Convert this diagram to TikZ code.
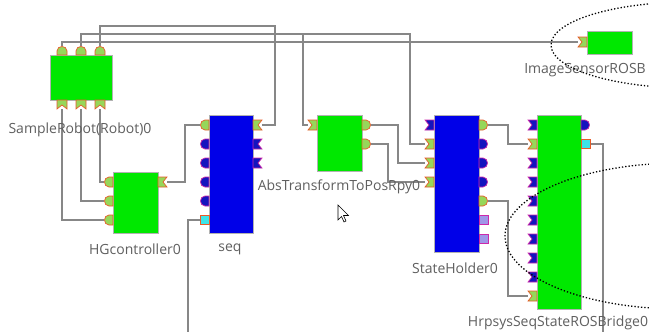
\documentclass[tikz,border=0pt]{standalone}
\usepackage{fontspec}
\setmainfont{Open Sans}
\usetikzlibrary{backgrounds}
\definecolor{blockgreen}{RGB}{0,232,0}
\definecolor{blockblue}{RGB}{0,0,232}
\definecolor{portgreen}{RGB}{150,215,90}
\definecolor{portblue}{RGB}{20,20,190}
\definecolor{portred}{RGB}{232,90,40}
\definecolor{portmag}{RGB}{205,40,170}
\definecolor{portcyan}{RGB}{60,228,232}
\definecolor{portlav}{RGB}{160,150,232}
\definecolor{wiregrey}{RGB}{135,135,135}
\definecolor{textgrey}{RGB}{95,95,95}
\tikzstyle{gblock}=[rectangle, draw=gray!60, fill=blockgreen, line width=0.6pt, inner sep=0pt]
\tikzstyle{bblock}=[rectangle, draw=gray!60, fill=blockblue, line width=0.6pt, inner sep=0pt]
\tikzstyle{lbl}=[font=\fontsize{14}{16}\selectfont, text=textgrey, inner sep=0pt]
\tikzstyle{wire}=[draw=wiregrey, line width=1.1pt]
\tikzstyle{gport}=[fill=portgreen, draw=portred, line width=0.7pt]
\tikzstyle{bport}=[fill=portblue, draw=portmag, line width=0.7pt]
\tikzstyle{cport}=[fill=portcyan, draw=portred, line width=0.7pt]
\tikzstyle{lport}=[fill=portlav, draw=portmag, line width=0.7pt]
\tikzstyle{halo}=[draw=black, dotted, line width=1.3pt]
\tikzset{
  notchport/.pic={\path[pic actions] (0,-5) -- (-9,-5) -- (-5,0) -- (-9,5) -- (0,5) -- cycle;
    \coordinate (-tip) at (-9,0);},
  domeport/.pic={\path[pic actions] (0,-5) -- (-4,-5) .. controls (-10,-5) and (-10,5) .. (-4,5) -- (0,5) -- cycle;
    \coordinate (-tip) at (-9,0);},
  sqport/.pic={\path[pic actions] (-9,-4.5) rectangle (0,4.5);
    \coordinate (-tip) at (-9,0);}
}

\begin{document}
\begin{tikzpicture}[x=1pt, y=-1pt]
  \useasboundingbox (0,0) rectangle (649,332);
  \clip (0,0) rectangle (649,332);

  % components
  \node[gblock, minimum width=62, minimum height=45] (sr) at (81,77.5) {};
  \node[gblock, minimum width=45, minimum height=61] (hg) at (135.5,202.5) {};
  \node[bblock, minimum width=44, minimum height=118] (seq) at (231,174) {};
  \node[gblock, minimum width=45, minimum height=56] (abs) at (339.5,143) {};
  \node[bblock, minimum width=45, minimum height=137] (sh) at (456.5,183.5) {};
  \node[gblock, minimum width=44, minimum height=194] (hr) at (559,212) {};
  \node[gblock, minimum width=45, minimum height=23] (is) at (609.5,42.5) {};

  % ports
  \pic[gport, rotate=-90] (srt1) at (62,55) {domeport};
  \pic[gport, rotate=-90] (srt2) at (81,55) {domeport};
  \pic[gport, rotate=-90] (srt3) at (100,55) {domeport};
  \pic[gport, rotate=90] (srb1) at (62,100) {notchport};
  \pic[gport, rotate=90] (srb2) at (81,100) {notchport};
  \pic[gport, rotate=90] (srb3) at (100,100) {notchport};

  \pic[gport] (hgi1) at (113,182) {domeport};
  \pic[gport] (hgi2) at (113,201) {domeport};
  \pic[gport] (hgi3) at (113,220) {domeport};
  \pic[gport, rotate=180] (hgo1) at (158,182) {notchport};

  \pic[gport] (seqi1) at (209,125) {domeport};
  \foreach \k in {1,...,4}
    \pic[bport] at (209,{125+19*\k}) {domeport};
  \pic[cport] (seqi6) at (209,220) {sqport};
  \pic[gport, rotate=180] (seqo1) at (253,125) {notchport};
  \pic[bport, rotate=180] at (253,144) {notchport};
  \pic[bport, rotate=180] at (253,163) {notchport};

  \pic[gport] (absi1) at (317,125) {notchport};
  \pic[gport, rotate=180] (abso1) at (362,125) {domeport};
  \pic[gport, rotate=180] (abso2) at (362,144) {domeport};

  \pic[bport] at (434,125) {notchport};
  \pic[gport] (shi2) at (434,144) {notchport};
  \pic[gport] (shi3) at (434,163) {notchport};
  \pic[gport] (shi4) at (434,182) {notchport};
  \pic[gport, rotate=180] (sho1) at (479,125) {domeport};
  \foreach \k in {1,...,3}
    \pic[bport, rotate=180] at (479,{125+19*\k}) {domeport};
  \pic[gport, rotate=180] (sho5) at (479,201) {domeport};
  \pic[lport, rotate=180] at (479,220) {sqport};
  \pic[lport, rotate=180] at (479,239) {sqport};

  \pic[bport] at (537,125) {notchport};
  \pic[gport] (hri2) at (537,144) {notchport};
  \foreach \k in {2,...,8}
    \pic[bport] at (537,{125+19*\k}) {notchport};
  \pic[gport] (hri10) at (537,296) {notchport};
  \pic[bport, rotate=180] at (581,125) {domeport};
  \pic[cport, rotate=180] (hro2) at (581,144) {sqport};

  \pic[gport] (isi1) at (587,42) {notchport};

  % labels
  \node[lbl] (srlbl) at (80,130) {SampleRobot(Robot)0};
  \node[lbl] (hglbl) at (135,249) {HGcontroller0};
  \node[lbl] (seqlbl) at (230,249) {seq};
  \node[lbl] (abslbl) at (339,187) {AbsTransformToPosRpy0};
  \node[lbl] (shlbl) at (455,268) {StateHolder0};
  \node[lbl] (hrlbl) at (558,323) {HrpsysSeqStateROSBridge0};
  \node[lbl, anchor=east] (islbl) at (646,70) {ImageSensorROSB};

  % connections
  \coordinate (seqfree) at (188,332);
  \coordinate (hrfree) at (603,332);
  \begin{scope}[on background layer]
    \fill[white] (0,0) rectangle (649,332);
    \draw[wire] (srt3-tip) |- (275,26) |- (seqo1-tip);
    \draw[wire] (srt2-tip) |- (410,34) |- (shi2-tip);
    \draw[wire] (srt2-tip) |- (303,34) |- (absi1-tip);
    \draw[wire] (srt1-tip) |- (isi1-tip);
    \draw[wire] (srb3-tip) |- (hgi1-tip);
    \draw[wire] (srb2-tip) |- (hgi2-tip);
    \draw[wire] (srb1-tip) |- (hgi3-tip);
    \draw[wire] (hgo1-tip) -| (185,125) -- (seqi1-tip);
    \draw[wire] (seqi6-tip) -| (seqfree);
    \draw[wire] (abso1-tip) -| (398,163) -- (shi3-tip);
    \draw[wire] (abso2-tip) -| (388,182) -- (shi4-tip);
    \draw[wire] (sho1-tip) -| (508,144) -- (hri2-tip);
    \draw[wire] (sho5-tip) -| (508,296) -- (hri10-tip);
    \draw[wire] (hro2-tip) -| (hrfree);
  \end{scope}

  % selection outlines
  \draw[halo] (690,45) ellipse [x radius=139, y radius=43];
  \draw[halo] (680,236) ellipse [x radius=175, y radius=73];

  % mouse pointer
  \draw[fill=white, line width=0.6pt] (338,205) -- (338,220) -- (341.5,216.5) -- (344,222)
    -- (346,221) -- (343.5,215.5) -- (348.5,215.5) -- cycle;
\end{tikzpicture}
\end{document}
